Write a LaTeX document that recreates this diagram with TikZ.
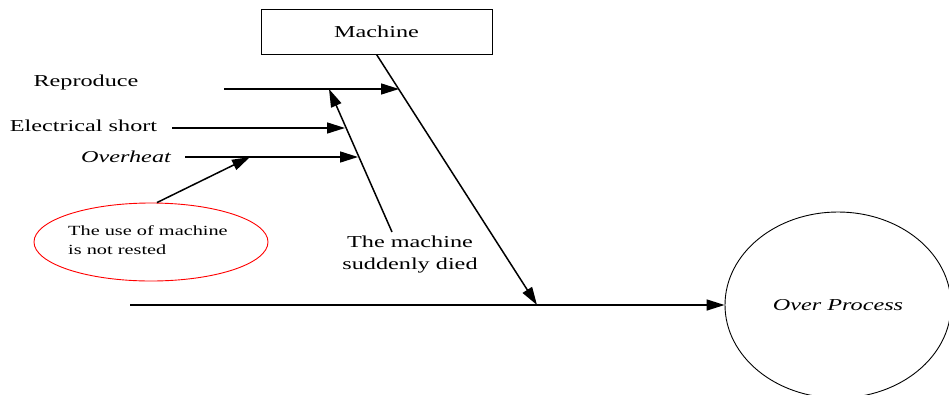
\documentclass[tikz,border=0pt]{standalone}
\usepackage{fontspec}
\setmainfont{Liberation Serif}[FakeStretch=1.45]
\usetikzlibrary{arrows.meta,shapes.geometric}

\begin{document}
\begin{tikzpicture}[x=1pt,y=-1pt,
  lbl/.style={font=\fontsize{16.7}{22}\selectfont, inner sep=0pt, align=center},
  small/.style={font=\fontsize{14}{19}\selectfont, inner sep=0pt, align=left},
  bone/.style={line width=1.5pt, -{Triangle[length=18pt,width=11pt]}},
  boxed/.style={draw, line width=0.9pt, minimum width=231pt, minimum height=45pt, inner sep=0pt},
  effect/.style={draw, ellipse, line width=0.9pt, minimum width=226pt, minimum height=186pt, inner sep=0pt},
  rootcause/.style={draw=red, ellipse, line width=0.9pt, minimum width=234pt, minimum height=78pt, inner sep=0pt}]
\useasboundingbox (0,0) rectangle (949,394);

% category box and effect
\node[boxed, lbl] (machine) at (376.5,31.5) {Machine};
\node[effect, lbl, font=\fontsize{16.7}{22}\selectfont\itshape] (over) at (838,305) {Over Process};

% spine and main bone
\coordinate (tail) at (130,305);
\coordinate (joint) at (537,305);
\draw[bone] (tail) -- (over.west);
\draw[bone] (machine.south) -- (joint);

% cause labels
\node[lbl] (reproduce) at (86,82) {Reproduce};
\node[lbl] (short) at (83.5,126) {Electrical short};
\node[lbl, font=\fontsize{16.7}{22}\selectfont\itshape] (overheat) at (126,157) {Overheat};
\node[lbl] (died) at (410,255) {The machine\\suddenly died};

% sub-bone for the sudden stop
\coordinate (diedtop) at (392,232);
\coordinate (diedtip) at (329,89);
\draw[bone] (diedtop) -- (diedtip);

% cause arrows
\coordinate (r0) at (224,89);
\coordinate (r1) at (399,89);
\coordinate (s1) at (345,128);
\coordinate (o1) at (358,157);
\coordinate (o2) at (250,157);
\draw[bone] (r0) -- (r1);
\draw[bone] (short.east) ++(15,2) coordinate (s0) (s0) -- (s1);
\draw[bone] (overheat.east) ++(14,0) coordinate (h0) (h0) -- (o1);

% root cause bubble
\node[rootcause] (rest) at (151,242) {};
\node[small, anchor=west] (resttext) at (68,240) {The use of machine\\is not rested};
\draw[bone] (rest.north) ++(6,0) coordinate (q0) (q0) -- (o2);
\end{tikzpicture}
\end{document}
